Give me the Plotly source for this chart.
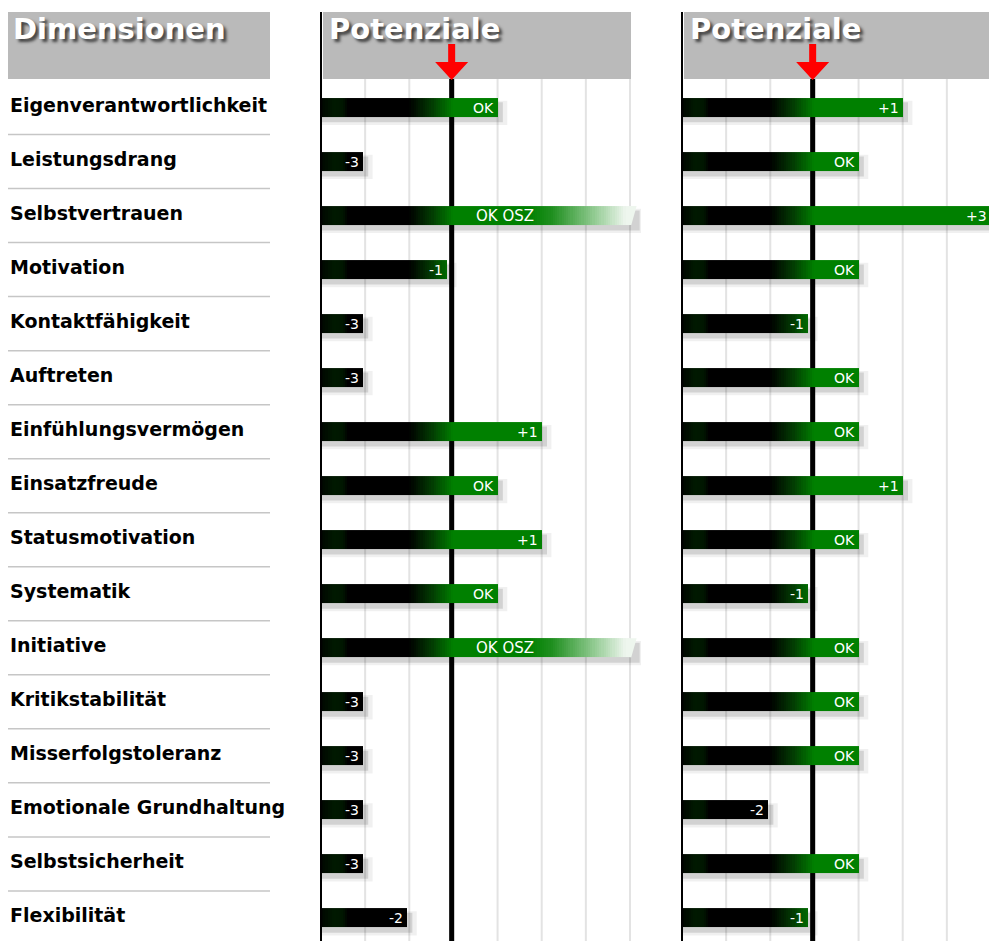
import numpy as np
import plotly.graph_objects as go

# ---------------- data ----------------
dimensions = ["Eigenverantwortlichkeit", "Leistungsdrang", "Selbstvertrauen", "Motivation",
              "Kontaktfähigkeit", "Auftreten", "Einfühlungsvermögen", "Einsatzfreude",
              "Statusmotivation", "Systematik", "Initiative", "Kritikstabilität",
              "Misserfolgstoleranz", "Emotionale Grundhaltung", "Selbstsicherheit", "Flexibilität"]
potenziale_1 = ["OK", "-3", "OK OSZ", "-1", "-3", "-3", "+1", "OK", "+1", "OK", "OK OSZ",
                "-3", "-3", "-3", "-3", "-2"]
potenziale_2 = ["+1", "OK", "+3", "OK", "-1", "OK", "OK", "+1", "OK", "-1", "OK", "OK",
                "OK", "-2", "OK", "-1"]
level_labels = ["-3", "-2", "-1", "OK", "+1", "+2", "+3", "OK OSZ"]
level_lengths = [0.95, 1.95, 2.85, 4.0, 5.0, 6.0, 7.0, 7.0]
header_left = "Dimensionen"
panel_titles = ["Potenziale", "Potenziale"]
center_level = 2.96

# ---------------- geometry helpers ----------------
W, H = 989, 941
PX = 309 / 7.0            # pixels per unit on the bar axes
ROW0, ROWSTEP = 107.5, 54.03
HALF = 0.175              # half bar height in row units


def py(p):  # pixel y -> paper
    return 1 - p / H


def pxp(p):  # pixel x -> paper
    return p / W


length_of = dict(zip(level_labels, level_lengths))
n = len(dimensions)

step = 0.05
xe = np.round(np.arange(0, 7.0 + step / 2, step), 4)
xc = (xe[:-1] + xe[1:]) / 2

colorscale = [
    [0.0, "#000400"], [0.3 / 14, "#001a00"], [0.5 / 14, "#001500"], [0.62 / 14, "#000000"],
    [2.0 / 14, "#000000"], [2.5 / 14, "#023a02"], [3.0 / 14, "#008000"],
    [0.5, "#008000"], [0.62, "#1f8f1f"], [0.8, "#7cc07c"], [1.0, "#eef6ee"],
]

fig = go.Figure()
shapes = []
annotations = []

panels = [
    dict(values=potenziale_1, xa="x", domain=[321 / W, 641 / W], rng=[0, 320 / PX], left=321, title=panel_titles[0]),
    dict(values=potenziale_2, xa="x2", domain=[682 / W, 1.0], rng=[0, 307 / PX], left=682, title=panel_titles[1]),
]

header_bottom = py(79)
title_font = dict(family="DejaVu Sans", size=29, color="#ffffff",
                  shadow="3px 3px 3px rgba(30,30,30,0.75)")

for p in panels:
    xa = p["xa"]
    xmax = p["rng"][1]
    # grid lines
    for k in range(1, 8):
        shapes.append(dict(type="line", xref=xa, yref="paper", x0=k, x1=k, y0=0, y1=header_bottom,
                           line=dict(color="#e3e3e3", width=2), layer="below"))
    # centre line
    shapes.append(dict(type="line", xref=xa, yref="paper", x0=center_level, x1=center_level,
                       y0=0, y1=header_bottom, line=dict(color="#000000", width=5), layer="below"))
    # bars via heatmap
    y_edges = []
    z = []
    for i, lab in enumerate(p["values"]):
        L = length_of[lab]
        y_edges += [i - HALF, i + HALF]
        row = np.where(xc < L - 1e-9, xc / 14.0, np.nan)
        if lab == "OK OSZ":
            fade = np.clip(0.5 + 0.5 * (xc - 4.7) / 2.2, 0.5, 1.0)
            row = np.where(xc > 4.7, fade, row)
            row = np.where(xc < L - 1e-9, row, np.nan)
        z.append(row.tolist())
        if i < n - 1:
            z.append([None] * len(xc))
        # shadows
        ext = 0.12 if lab != "OK OSZ" else 0.22
        shapes.append(dict(type="rect", xref=xa, yref="y", x0=0.02, x1=L + ext + 0.1,
                           y0=i - HALF + 0.05, y1=i + HALF + 0.15,
                           fillcolor="rgba(0,0,0,0.06)", line_width=0, layer="below"))
        shapes.append(dict(type="rect", xref=xa, yref="y", x0=0.02, x1=L + ext,
                           y0=i - HALF + 0.08, y1=i + HALF + 0.10,
                           fillcolor="rgba(0,0,0,0.12)", line_width=0, layer="below"))
        # labels on bars
        if lab == "OK OSZ":
            annotations.append(dict(xref=xa, yref="y", x=4.17, y=i, text="OK OSZ", showarrow=False,
                                    xanchor="center", yanchor="middle",
                                    font=dict(family="DejaVu Sans", size=15, color="#ffffff")))
            # arrow tip at the end of the bar
            shapes.append(dict(type="path", xref=xa, yref="y",
                               path=f"M {L - 0.01},{i - HALF} L {L + 0.15},{i - HALF} "
                                    f"L {L + 0.03},{i + HALF} L {L - 0.01},{i + HALF} Z",
                               fillcolor="#eef6ee", line_width=0, layer="above"))
        else:
            annotations.append(dict(xref=xa, yref="y", x=min(L - 0.04, xmax - 0.01), y=i, text=lab,
                                    showarrow=False, xanchor="right", yanchor="middle",
                                    font=dict(family="DejaVu Sans", size=14, color="#ffffff")))
    fig.add_trace(go.Heatmap(x=xe, y=y_edges, z=z, colorscale=colorscale, zmin=0, zmax=1,
                             showscale=False, hoverinfo="skip", xaxis=xa, yaxis="y"))
    # left border
    shapes.append(dict(type="line", xref="paper", yref="paper", x0=pxp(p["left"]), x1=pxp(p["left"]),
                       y0=0, y1=py(12), line=dict(color="#000000", width=2), layer="above"))
    # header box
    shapes.append(dict(type="rect", xref="paper", yref="paper", x0=pxp(p["left"] + 2),
                       x1=min(1.0, pxp(p["left"] + 310)), y0=header_bottom, y1=py(12),
                       fillcolor="#bababa", line_width=0, layer="above"))
    # red arrow
    sw, hw = 3.5 / PX, 16.5 / PX
    c = center_level
    shapes.append(dict(type="path", xref=xa, yref="paper",
                       path=f"M {c - sw},{py(44)} L {c + sw},{py(44)} L {c + sw},{py(62)} "
                            f"L {c + hw},{py(62)} L {c},{py(80)} L {c - hw},{py(62)} "
                            f"L {c - sw},{py(62)} Z",
                       fillcolor="#ff0000", line_width=0, layer="above"))
    # title
    annotations.append(dict(xref="paper", yref="paper", x=pxp(p["left"] + 6), y=py(29),
                            text=f"<b>{p['title']}</b>", showarrow=False, xanchor="left",
                            yanchor="middle", font=title_font))

# left column header
shapes.append(dict(type="rect", xref="paper", yref="paper", x0=pxp(8), x1=pxp(270), y0=header_bottom,
                   y1=py(12), fillcolor="#bababa", line_width=0, layer="above"))
annotations.append(dict(xref="paper", yref="paper", x=pxp(11), y=py(29), text=f"<b>{header_left}</b>",
                        showarrow=False, xanchor="left", yanchor="middle", font=title_font))

# dimension labels and separators
for i, name in enumerate(dimensions):
    annotations.append(dict(xref="paper", yref="y", x=pxp(8), y=i, text=f"<b>{name}</b>", showarrow=False,
                            xanchor="left", yanchor="middle", yshift=3,
                            font=dict(family="DejaVu Sans", size=19, color="#000000")))
    if i < n - 1:
        shapes.append(dict(type="line", xref="paper", yref="y", x0=pxp(8), x1=pxp(270), y0=i + 0.5,
                           y1=i + 0.5, line=dict(color="#c6c6c6", width=1.5), layer="below"))

axis_common = dict(showgrid=False, zeroline=False, showticklabels=False, ticks="", showline=False,
                   fixedrange=True)
fig.update_layout(
    width=W, height=H, margin=dict(l=0, r=0, t=0, b=0),
    paper_bgcolor="#ffffff", plot_bgcolor="rgba(0,0,0,0)", showlegend=False,
    xaxis=dict(domain=panels[0]["domain"], range=panels[0]["rng"], anchor="y", **axis_common),
    xaxis2=dict(domain=panels[1]["domain"], range=panels[1]["rng"], anchor="y", **axis_common),
    yaxis=dict(domain=[0, 1], range=[(H - ROW0) / ROWSTEP, -ROW0 / ROWSTEP], **axis_common),
    shapes=shapes, annotations=annotations,
)

fig.write_html("out.html", config={"displayModeBar": False},
               post_script="document.body.style.margin='0';")
